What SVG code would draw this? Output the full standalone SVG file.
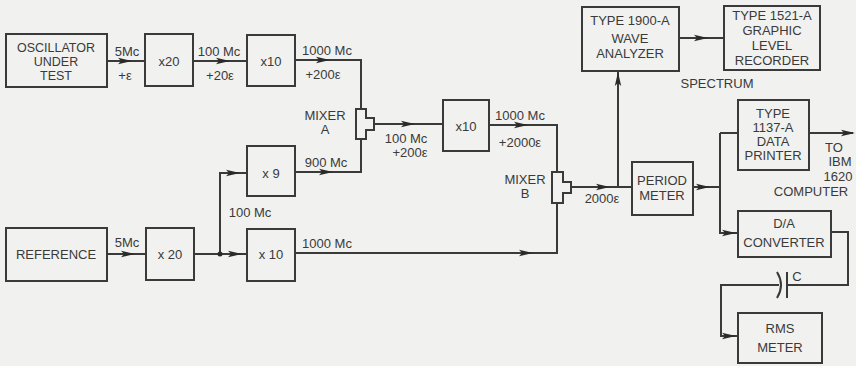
<svg xmlns="http://www.w3.org/2000/svg" xmlns:xlink="http://www.w3.org/1999/xlink" width="856" height="366" viewBox="0 0 856 366">
<style>
.box{fill:none;stroke:#3a3a3a;stroke-width:2}
.ln{fill:none;stroke:#3a3a3a;stroke-width:2}
text{font-family:"Liberation Sans",Arial,sans-serif;font-size:13px;fill:#3a3a3a}
.c{text-anchor:middle}
.s{font-size:12.5px}
.ah{fill:#2a2a2a}
</style>
<defs>
<path id="ah" d="M-14,-3.2 L0,0 L-14,3.2 L-11,0 Z"/>
</defs>
<rect width="856" height="366" fill="#f1f1ef"/>

<g id="osc"><rect class="box" x="6" y="34" width="101" height="53"/><text class="c s" x="56" y="52">OSCILLATOR</text><text class="c s" x="56" y="66">UNDER</text><text class="c s" x="56" y="80">TEST</text></g>
<g id="x20a"><rect class="box" x="145" y="34" width="48" height="52"/><text class="c" x="169" y="66">x20</text></g>
<g id="x10a"><rect class="box" x="247" y="35" width="48" height="51"/><text class="c" x="271" y="66">x10</text></g>
<g id="mixerA"><path class="box" d="M356,109 H366 V118 H374 V130 H366 V139 H356 Z"/><text class="c" x="325" y="120">MIXER</text><text class="c" x="325" y="134">A</text></g>
<g id="x10b"><rect class="box" x="443" y="100" width="46" height="51"/><text class="c" x="466" y="131">x10</text></g>
<g id="mixerB"><path class="box" d="M552,172 H563 V182 H571 V193 H563 V203 H552 Z"/><text class="c" x="525" y="184">MIXER</text><text class="c" x="525" y="198">B</text></g>
<g id="period"><rect class="box" x="632" y="162" width="61" height="53"/><text class="c" x="662" y="185">PERIOD</text><text class="c" x="662" y="200">METER</text></g>
<g id="wave"><rect class="box" x="582" y="7" width="97" height="64"/><text class="c" x="630" y="25">TYPE 1900-A</text><text class="c" x="630" y="43">WAVE</text><text class="c" x="630" y="58">ANALYZER</text></g>
<g id="recorder"><rect class="box" x="724" y="6" width="96" height="64"/><text class="c" x="772" y="20">TYPE 1521-A</text><text class="c" x="772" y="35">GRAPHIC</text><text class="c" x="772" y="50">LEVEL</text><text class="c" x="772" y="65">RECORDER</text></g>
<g id="printer"><rect class="box" x="738" y="100" width="71" height="70"/><text class="c" x="773" y="118">TYPE</text><text class="c" x="773" y="132">1137-A</text><text class="c" x="773" y="146">DATA</text><text class="c" x="773" y="160">PRINTER</text></g>
<g id="da"><rect class="box" x="738" y="211" width="93" height="46"/><text class="c" x="784" y="228">D/A</text><text class="c" x="784" y="247">CONVERTER</text></g>
<g id="rms"><rect class="box" x="738" y="313" width="84" height="50"/><text class="c" x="780" y="333">RMS</text><text class="c" x="780" y="352">METER</text></g>
<g id="ref"><rect class="box" x="6" y="228" width="101" height="53"/><text class="c" x="56" y="259">REFERENCE</text></g>
<g id="x20b"><rect class="box" x="146" y="228" width="48" height="52"/><text class="c" x="170" y="259">x 20</text></g>
<g id="x9"><rect class="box" x="247" y="146" width="48" height="50"/><text class="c" x="271" y="178">x 9</text></g>
<g id="x10c"><rect class="box" x="247" y="229" width="48" height="52"/><text class="c" x="271" y="259">x 10</text></g>

<g id="connectors">
<path class="ln" d="M107,61 H145"/>
<path class="ln" d="M193,61 H247"/>
<path class="ln" d="M295,60 H361 V109"/>
<path class="ln" d="M374,124 H443"/>
<path class="ln" d="M489,125 H557 V172"/>
<path class="ln" d="M295,172 H361 V139"/>
<path class="ln" d="M571,187 H632"/>
<path class="ln" d="M618,187 V71"/>
<path class="ln" d="M679,38 H724"/>
<path class="ln" d="M693,187 H720"/>
<path class="ln" d="M720,133 V233 H738"/>
<path class="ln" d="M720,133 H738"/>
<path class="ln" d="M809,133 H853"/>
<path class="ln" d="M831,232 H848 V285 H787"/>
<path class="ln" d="M779,285 H721 V336 H738"/>
<path class="ln" d="M787,272 V298"/>
<path class="ln" d="M777,272 Q785,285 777,298"/>
<path class="ln" d="M107,254 H146"/>
<path class="ln" d="M194,254 H247"/>
<path class="ln" d="M220,254 V173 H247"/>
<path class="ln" d="M295,253 H557 V203"/>
<circle cx="220" cy="254" r="2.5" fill="#2a2a2a"/>
<use class="ah" href="#ah" x="132" y="61"/>
<use class="ah" href="#ah" x="230" y="61"/>
<use class="ah" href="#ah" x="330" y="60"/>
<use class="ah" href="#ah" x="415" y="124"/>
<use class="ah" href="#ah" x="528" y="125"/>
<use class="ah" href="#ah" x="333" y="172"/>
<use class="ah" href="#ah" x="610" y="187"/>
<use class="ah" href="#ah" x="710" y="187"/>
<use class="ah" href="#ah" x="708" y="38"/>
<use class="ah" href="#ah" x="855" y="133"/>
<use class="ah" href="#ah" x="736" y="233"/>
<use class="ah" href="#ah" x="736" y="336"/>
<use class="ah" href="#ah" x="135" y="254"/>
<use class="ah" href="#ah" x="242" y="254"/>
<use class="ah" href="#ah" x="240" y="173"/>
<use class="ah" href="#ah" x="533" y="253"/>
<use class="ah" href="#ah" transform="translate(618,72) rotate(-90)"/>
</g>

<g id="labels">
<text class="c" x="127" y="56">5Mc</text>
<text class="c" x="125" y="80">+ε</text>
<text class="c" x="219" y="56">100 Mc</text>
<text class="c" x="220" y="80">+20ε</text>
<text class="c" x="327" y="55">1000 Mc</text>
<text class="c" x="323" y="79">+200ε</text>
<text class="c" x="406" y="143">100 Mc</text>
<text class="c" x="410" y="157">+200ε</text>
<text class="c" x="520" y="120">1000 Mc</text>
<text class="c" x="520" y="147">+2000ε</text>
<text class="c" x="326" y="167">900 Mc</text>
<text class="c" x="602" y="203">2000ε</text>
<text class="c" x="717" y="88">SPECTRUM</text>
<text class="c" x="834" y="152">TO</text>
<text class="c" x="840" y="166">IBM</text>
<text class="c" x="838" y="181">1620</text>
<text class="c" x="811" y="196">COMPUTER</text>
<text class="c" x="797" y="281">C</text>
<text class="c" x="127" y="247">5Mc</text>
<text class="c" x="250" y="217">100 Mc</text>
<text class="c" x="327" y="248">1000 Mc</text>
</g>
</svg>
